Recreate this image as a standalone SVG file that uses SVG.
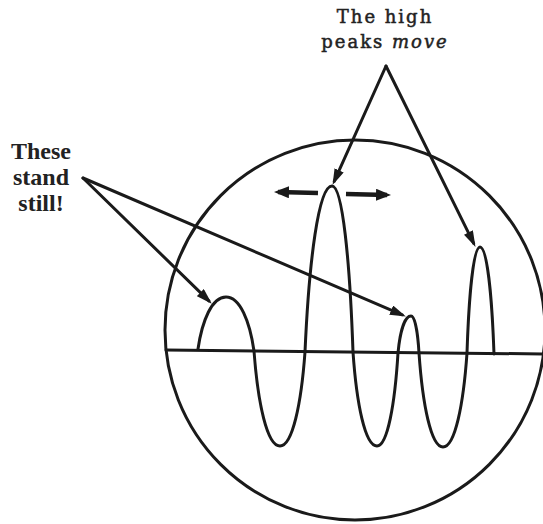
<svg xmlns="http://www.w3.org/2000/svg" width="543" height="524" viewBox="0 0 543 524">
  <style>
    .ln { fill: none; stroke: #1a1a1a; stroke-width: 3; stroke-linecap: round; stroke-linejoin: round; }
    .thick { fill: none; stroke: #1a1a1a; stroke-width: 4.5; stroke-linecap: butt; }
    .lbl { font-family: "Liberation Serif", "Times New Roman", serif; font-weight: bold; font-size: 24px; fill: #222; text-anchor: middle; }
    .lbl2 { font-family: "DejaVu Serif", "Liberation Serif", serif; font-size: 18px; fill: #222; stroke: #222; stroke-width: 0.5; text-anchor: middle; letter-spacing: 2px; }
  </style>
  <defs>
    <marker id="head" markerUnits="userSpaceOnUse" markerWidth="16" markerHeight="10" refX="12" refY="5" orient="auto">
      <path d="M0,0 L16,5 L0,10 Z" fill="#1a1a1a"/>
    </marker>
    <marker id="bighead" markerUnits="userSpaceOnUse" markerWidth="15" markerHeight="12" refX="11" refY="6" orient="auto">
      <path d="M0,0 L15,6 L0,12 Z" fill="#1a1a1a"/>
    </marker>
  </defs>
  <rect width="543" height="524" fill="#ffffff"/>

  <g id="scope">
    <circle cx="355" cy="330" r="190" class="ln"/>
    <line x1="166" y1="350" x2="545" y2="354" class="ln"/>
  </g>

  <g id="wave">
    <path class="ln" d="M198,349
      C202.2,320.4 212,297 226,297
      C240,297 249.8,321.3 254,351
      C257.9,403.25 267,446 280,446
      C292.5,446 301.25,403.7 305,352
      C309.05,260.7 318.5,186 332,186
      C342.5,186 349.85,260.7 353,352
      C356.6,403.7 365,446 377,446
      C387.5,446 394.85,404.15 398,353
      C399.95,332.65 404.5,316 411,316
      C415,316 417.8,332.65 419,353
      C422.6,404.7 431,447 443,447
      C455,447 463.4,404.7 467,353
      C468.95,294.7 473.5,247 480,247
      C487,247 491.9,295.15 494,354"/>
  </g>

  <g id="label-still">
    <text class="lbl" x="41" y="159">These</text>
    <text class="lbl" x="41" y="185">stand</text>
    <text class="lbl" x="41" y="211">still!</text>
  </g>

  <g id="label-move">
    <text class="lbl2" x="385" y="23">The high</text>
    <text class="lbl2" x="385" y="48">peaks <tspan font-style="italic">move</tspan></text>
  </g>

  <g id="connectors">
    <path class="ln" d="M83,178 L208.9,300.9" marker-end="url(#head)"/>
    <path class="ln" d="M83,178 L402.2,314.8" marker-end="url(#head)"/>
    <path class="ln" d="M386,66 L334.2,181.3" marker-end="url(#head)"/>
    <path class="ln" d="M386,66 L473.7,243.3" marker-end="url(#head)"/>
    <path class="thick" d="M318,193 L278,192" marker-end="url(#bighead)"/>
    <path class="thick" d="M346,194 L387,195" marker-end="url(#bighead)"/>
  </g>
</svg>
